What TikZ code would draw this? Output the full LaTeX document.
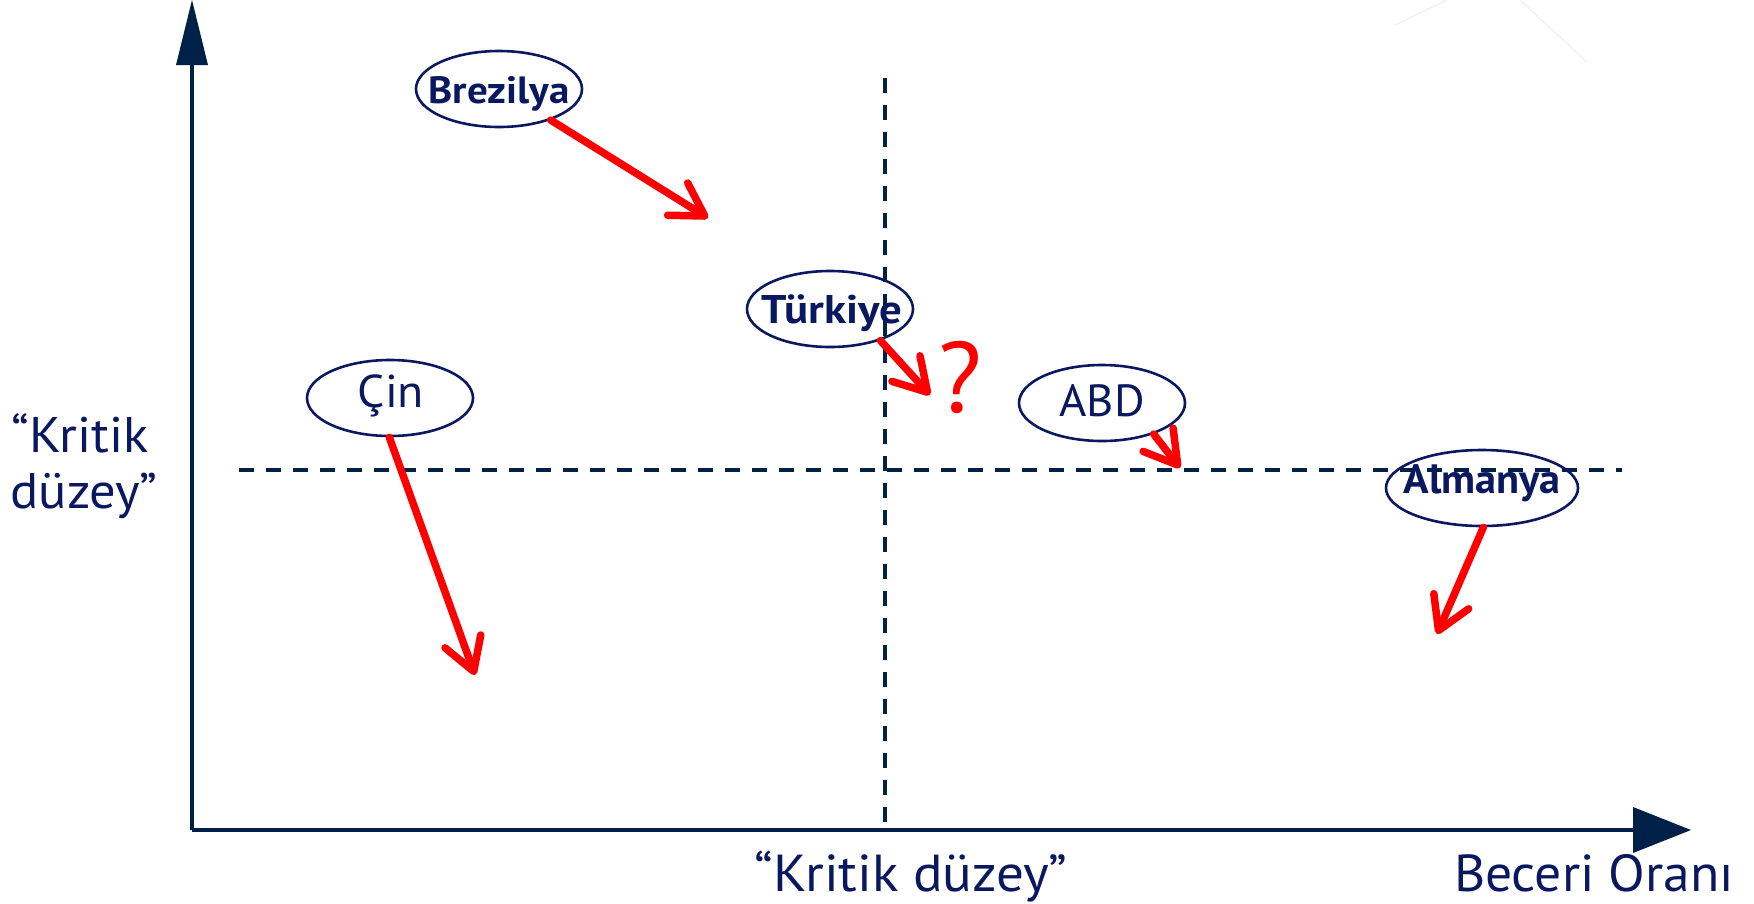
\documentclass[tikz,border=0pt]{standalone}
\usepackage{fontspec}
\setmainfont{PT Sans}
\usetikzlibrary{arrows.meta,shapes.geometric}
\definecolor{axisnavy}{RGB}{0,33,71}
\definecolor{txtnavy}{RGB}{10,24,96}
\newcommand{\wider}[2]{\scalebox{#1}[1]{#2}}
\begin{document}
\begin{tikzpicture}[x=1pt,y=-1pt,
  country/.style={draw=txtnavy, line width=2.6pt, ellipse, inner sep=0pt, minimum height=76pt},
  clabel/.style={text=txtnavy, inner sep=0pt, anchor=base},
  axislabel/.style={text=txtnavy, inner sep=0pt, anchor=base, font=\fontsize{52}{56}\selectfont},
  trend/.style={draw=red, line width=7.5pt, line cap=round, line join=round,
    -{Straight Barb[length=32pt,width=38pt,line cap=round,line join=round]}},
  guide/.style={draw=axisnavy, line width=3.5pt, dash pattern=on 15pt off 12pt},
  axisline/.style={draw=axisnavy, line width=3.5pt},
  faint/.style={draw=black!5, line width=1.5pt}]
\useasboundingbox (0,0) rectangle (1754,903);

% faint lines at top right
\coordinate (f1) at (1395,25);
\coordinate (f2) at (1447,0);
\coordinate (f3) at (1520,0);
\coordinate (f4) at (1587,62);
\draw[faint] (f1) -- (f2);
\draw[faint] (f3) -- (f4);

% axes
\coordinate (O) at (192,830);
\coordinate (ytop) at (192,64);
\coordinate (xend) at (1634,830);
\draw[axisline] (O) -- (ytop);
\draw[axisline] (O) -- (xend);
\fill[axisnavy] (176,65) -- (192,0) -- (208,65) -- cycle;
\fill[axisnavy] (1633,807) -- (1691,830) -- (1633,853) -- cycle;

% guide lines
\coordinate (v1) at (885,78);
\coordinate (v2) at (885,828);
\coordinate (h1) at (239,470);
\coordinate (h2) at (1622,470);
\draw[guide] (v1) -- (v2);
\draw[guide] (h1) -- (h2);

% countries
\node[country, minimum width=166pt] (bra) at (499,89) {};
\node[clabel, font=\fontsize{38}{40}\selectfont\bfseries] (braT) at (499,103) {\wider{1.08}{Brezilya}};

\node[country, minimum width=166pt] (tur) at (830,309) {};
\node[clabel, font=\fontsize{40}{42}\selectfont\bfseries] (turT) at (832,323) {\wider{1.12}{Türkiye}};

\node[country, minimum width=166pt] (cin) at (390,398) {};
\node[clabel, font=\fontsize{46}{48}\selectfont] (cinT) at (391,407) {\wider{1.04}{Çin}};

\node[country, minimum width=166pt] (abd) at (1102,403) {};
\node[clabel, font=\fontsize{45}{48}\selectfont] (abdT) at (1102,416) {\wider{1.04}{ABD}};

\node[country, minimum width=192pt] (alm) at (1482,488) {};
\node[clabel, font=\fontsize{41}{44}\selectfont\bfseries] (almT) at (1482,493) {\wider{1.03}{Almanya}};

% trend arrows
\coordinate (braE) at (708,218);
\coordinate (turE) at (930,395);
\coordinate (cinE) at (475,675);
\coordinate (abdE) at (1180,468);
\coordinate (almE) at (1437,634);
\draw[trend] (bra.-31) -- (braE);
\draw[trend] (tur.-32) -- (turE);
\draw[trend] (cin.-91) -- (cinE);
\draw[trend] (abd.-31) -- (abdE);
\draw[trend] (alm.-88) -- (almE);

\node[inner sep=0pt, anchor=base, text=red, font=\fontsize{100}{100}\selectfont] (q) at (960,412) {?};

% axis labels
\node[axislabel, font=\fontsize{50}{56}\selectfont] (yl1) at (80,452) {\wider{1.05}{“Kritik}};
\node[axislabel, font=\fontsize{50}{56}\selectfont] (yl2) at (84,508) {\wider{1.05}{düzey”}};
\node[axislabel] (xl1) at (911,891) {\wider{1.06}{“Kritik düzey”}};
\node[axislabel] (xl2) at (1594,891) {\wider{1.03}{Beceri Oranı}};
\end{tikzpicture}
\end{document}
